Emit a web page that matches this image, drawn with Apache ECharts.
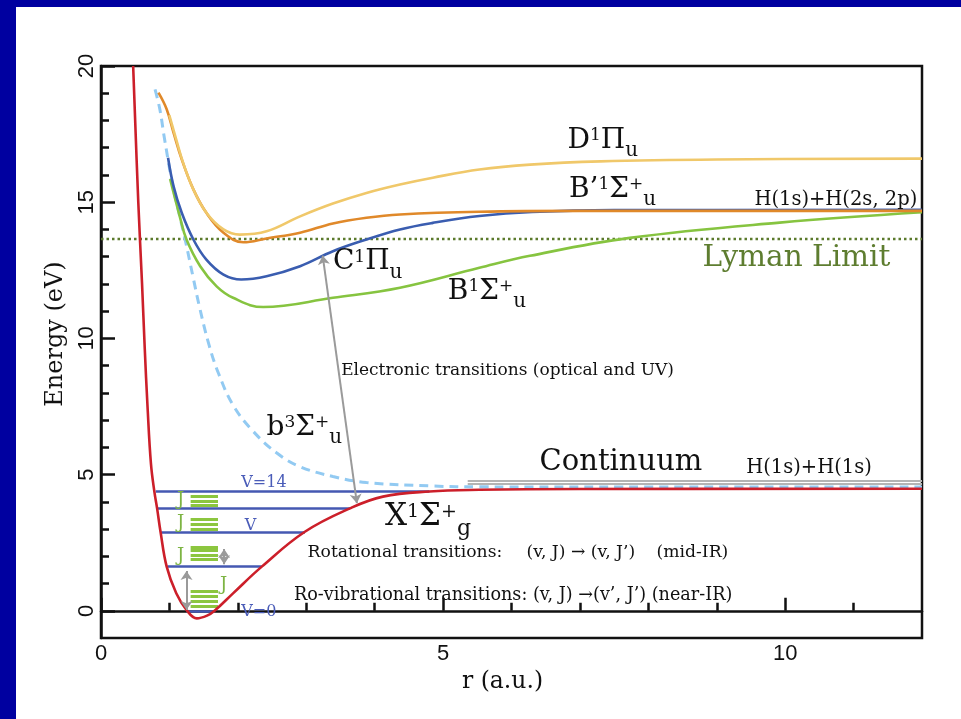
<!DOCTYPE html>
<html>
<head>
<meta charset="utf-8">
<script src="https://cdn.jsdelivr.net/npm/echarts@6/dist/echarts.min.js"></script>
<style>
  html, body { margin: 0; padding: 0; background: #fff; }
  #chart { width: 961px; height: 719px; }
</style>
</head>
<body>
<div id="chart"></div>
<script>
// Potential energy curves of the H2 molecule: energy (eV) against internuclear distance r (a.u.)

// Axis ranges and tick values
const rRange = [0, 12];
const eRange = [-1, 20];
const rMajorTicks = [0, 5, 10];
const rMinorTicks = [1, 2, 3, 4, 6, 7, 8, 9, 11];
const eMajorTicks = [0, 5, 10, 15, 20];
const eMinorTicks = [1, 2, 3, 4, 6, 7, 8, 9, 11, 12, 13, 14, 16, 17, 18, 19];

// Electronic states, [r, E] pairs
const stateX = [[0.47, 20], [0.545, 15], [0.6, 12], [0.64, 9.6], [0.68, 7.5],
  [0.73, 5.4], [0.78, 4.375], [0.82, 3.76], [0.87, 2.9], [0.96, 1.62], [1.1, 0.64], [1.25, 0.03],
  [1.4, -0.28], [1.55, -0.18], [1.66, 0.0], [1.93, 0.64], [2.35, 1.62], [2.98, 2.9], [3.64, 3.76],
  [4.12, 4.19], [4.8, 4.38], [5.53, 4.44], [7, 4.47], [12, 4.48]];
const stateb3 = [[0.79, 19.14], [0.86, 18.41], [0.93, 17.3], [1.05, 15.59], [1.15, 14.49], [1.23, 13.63],
  [1.35, 12.2], [1.44, 11.15], [1.58, 9.75], [1.72, 8.7], [1.93, 7.55], [2.22, 6.6], [2.57, 5.79],
  [2.91, 5.29], [3.39, 4.93], [3.88, 4.71], [4.85, 4.58], [5.53, 4.55], [8, 4.54], [12, 4.54]];
const stateD = [[0.998, 18.2], [1.1, 17.3], [1.2, 16.45], [1.35, 15.47], [1.54, 14.61], [1.79, 14.0],
  [2.03, 13.81], [2.42, 13.93], [2.91, 14.48], [3.39, 14.95], [3.88, 15.34], [4.37, 15.65],
  [4.85, 15.9], [5.53, 16.2], [6.27, 16.38], [7.3, 16.5], [9, 16.57], [12, 16.6]];
const stateBp = [[0.84, 19.02], [0.96, 18.41], [1.06, 17.55], [1.18, 16.57], [1.35, 15.47], [1.54, 14.61],
  [1.79, 13.88], [2.08, 13.53], [2.42, 13.67], [2.91, 13.88], [3.39, 14.22], [3.88, 14.43],
  [4.37, 14.55], [5.53, 14.65], [7, 14.68], [12, 14.68]];
const stateC = [[0.98, 16.63], [1.06, 15.59], [1.18, 14.61], [1.35, 13.63], [1.54, 12.89], [1.79, 12.34],
  [2.05, 12.16], [2.42, 12.28], [2.91, 12.65], [3.39, 13.2], [3.88, 13.63], [4.37, 14.0],
  [4.85, 14.24], [5.53, 14.49], [6.3, 14.64], [7.5, 14.71], [12, 14.72]];
const stateB = [[1.01, 15.85], [1.15, 14.49], [1.25, 13.63], [1.45, 12.65], [1.69, 11.91], [1.93, 11.49],
  [2.37, 11.15], [3.39, 11.49], [4.37, 11.86], [5.53, 12.59], [6.27, 13.03], [7.73, 13.69],
  [9.92, 14.25], [12, 14.63]];

// Ionisation threshold (Lyman limit) and dissociation continuum
const lymanLimit = 13.65;
const continuumLevels = [4.76, 4.67];
const continuumSpan = [5.36, 12];

// Vibrational levels of the ground state: [E, r left, r right]
const vibLevels = [[4.375, 0.8, 4.8], [3.76, 0.83, 3.64], [2.9, 0.88, 2.98], [1.62, 0.97, 2.35], [0, 1.25, 1.66]];
// Rotational sub-levels drawn beside the vibrational levels
const rotLevels = [[4.19, 4.03, 3.88], [3.36, 3.19, 3.01], [2.35, 2.21, 2.05, 1.89], [0.73, 0.55, 0.36, 0.18]];
const rotSpan = [1.31, 1.71];

// Transitions: [[r, E] start, [r, E] end]
const transitions = [
  [[3.74, 3.95], [3.24, 13.04]],
  [[1.8, 1.71], [1.8, 2.27]],
  [[1.25, 0.03], [1.25, 1.46]]
];

const SERIF = 'DejaVu Serif';
const SANS = 'Liberation Sans';
const INK = '#111';

// Term symbols: superscripts raised and subscripts lowered via asymmetric padding
function stateRich(size) {
  const up = Math.round(size * 0.36);
  const down = Math.round(size * 0.76);
  return {
    m: { fontFamily: SERIF, fontSize: size, color: INK },
    s: { fontFamily: SERIF, fontSize: Math.round(size * 0.62), color: INK, padding: [0, 0, up, 0] },
    b: { fontFamily: SERIF, fontSize: Math.round(size * 0.72), color: INK, padding: [down, 0, 0, 0] }
  };
}

function textLabel(pos, text, opts) {
  return {
    value: pos,
    label: Object.assign({
      show: true, position: 'right', distance: 0, formatter: text,
      fontFamily: SERIF, fontSize: 17, color: INK, opacity: 1
    }, opts || {})
  };
}

const annotations = [
  textLabel([6.82, 17.27], '{m|D}{s|1}{m|Π}{b|u}', { rich: stateRich(28) }),
  textLabel([6.84, 15.47], '{m|B’}{s|1}{m|Σ}{s|+}{b|u}', { rich: stateRich(28) }),
  textLabel([3.39, 12.8], '{m|C}{s|1}{m|Π}{b|u}', { rich: stateRich(28) }),
  textLabel([5.07, 11.72], '{m|B}{s|1}{m|Σ}{s|+}{b|u}', { rich: stateRich(28) }),
  textLabel([2.42, 6.72], '{m|b}{s|3}{m|Σ}{s|+}{b|u}', { rich: stateRich(28) }),
  textLabel([4.15, 3.44], '{m|X}{s|1}{m|Σ}{s|+}{b|g}', { rich: stateRich(31) }),
  textLabel([9.55, 15.1], 'H(1s)+H(2s, 2p)', { fontSize: 19.5 }),
  textLabel([9.43, 5.25], 'H(1s)+H(1s)', { fontSize: 19.5 }),
  textLabel([8.79, 12.93], 'Lyman Limit', { fontSize: 29.5, color: '#5e7d30' }),
  textLabel([6.41, 5.45], 'Continuum', { fontSize: 29 }),
  textLabel([3.51, 8.81], 'Electronic transitions (optical and UV)', { fontSize: 17 }),
  textLabel([3.02, 2.13], 'Rotational transitions:', { fontSize: 17.2 }),
  textLabel([6.22, 2.13], '(v, J) → (v, J’)', { fontSize: 17.2 }),
  textLabel([8.12, 2.13], '(mid-IR)', { fontSize: 17.2 }),
  textLabel([2.82, 0.57], 'Ro-vibrational transitions: (v, J) →(v’, J’) (near-IR)', { fontSize: 17.6 }),
  textLabel([2.05, 4.68], 'V=14', { fontSize: 16, color: '#4a5cb8' }),
  textLabel([2.1, 3.13], 'V', { fontSize: 16, color: '#4a5cb8' }),
  textLabel([2.05, -0.05], 'V=0', { fontSize: 16, color: '#4a5cb8' }),
  textLabel([1.11, 4.04], 'J', { fontSize: 18, color: '#7db443' }),
  textLabel([1.11, 3.21], 'J', { fontSize: 18, color: '#7db443' }),
  textLabel([1.11, 2.01], 'J', { fontSize: 18, color: '#7db443' }),
  textLabel([1.74, 0.94], 'J', { fontSize: 18, color: '#7db443' })
];

function curve(name, data, color, width, dash, z) {
  return {
    name: name, type: 'line', data: data, smooth: 0.4,
    showSymbol: false, symbol: 'none', clip: true, z: z || 3,
    lineStyle: { color: color, width: width, type: dash || 'solid', cap: 'butt' }
  };
}

const vibCoords = vibLevels.map(v => ({ coords: [[v[1], v[0]], [v[2], v[0]]] }));
const rotCoords = [];
rotLevels.forEach(stack => stack.forEach(e => rotCoords.push({ coords: [[rotSpan[0], e], [rotSpan[1], e]] })));
const contCoords = continuumLevels.map(e => ({ coords: [[continuumSpan[0], e], [continuumSpan[1], e]] }));
const arrowCoords = transitions.map(t => ({ coords: [t[0], t[1]] }));

const tickStyle = { color: INK, width: 2.5 };

const option = {
  animation: false,
  backgroundColor: '#fff',
  grid: { left: 101, top: 66, width: 821, height: 572, show: true, borderColor: INK, borderWidth: 2.5, outerBoundsMode: 'none' },
  graphic: [
    { type: 'rect', z: 100, shape: { x: 0, y: 0, width: 16, height: 719 }, style: { fill: '#0000a0' } },
    { type: 'rect', z: 100, shape: { x: 0, y: 0, width: 961, height: 7 }, style: { fill: '#0000a0' } }
  ],
  xAxis: [
    {
      type: 'value', min: rRange[0], max: rRange[1], position: 'bottom',
      axisLine: { show: true, lineStyle: tickStyle },
      axisTick: { show: true, inside: true, length: 13, customValues: rMajorTicks, lineStyle: tickStyle },
      axisLabel: { customValues: rMajorTicks, margin: 5, fontFamily: SANS, fontSize: 22, color: INK },
      splitLine: { show: false },
      name: 'r (a.u.)', nameLocation: 'middle', nameGap: 23,
      nameTextStyle: { fontFamily: SERIF, fontSize: 23.5, color: INK, padding: [0, 18, 0, 0] }
    },
    {
      type: 'value', min: rRange[0], max: rRange[1], position: 'bottom',
      axisLine: { show: false },
      axisTick: { show: true, inside: true, length: 8, customValues: rMinorTicks, lineStyle: tickStyle },
      axisLabel: { show: false }, splitLine: { show: false }
    }
  ],
  yAxis: [
    {
      type: 'value', min: eRange[0], max: eRange[1], position: 'left',
      axisLine: { show: true, lineStyle: tickStyle },
      axisTick: { show: true, inside: true, length: 14, customValues: eMajorTicks, lineStyle: tickStyle },
      axisLabel: { customValues: eMajorTicks, rotate: 90, margin: 3, fontFamily: SANS, fontSize: 22, color: INK },
      splitLine: { show: false },
      name: 'Energy (eV)', nameLocation: 'middle', nameGap: 30,
      nameTextStyle: { fontFamily: SERIF, fontSize: 24, color: INK, padding: [0, 0, 0, 36] }
    },
    {
      type: 'value', min: eRange[0], max: eRange[1], position: 'left',
      axisLine: { show: false },
      axisTick: { show: true, inside: true, length: 8, customValues: eMinorTicks, lineStyle: tickStyle },
      axisLabel: { show: false }, splitLine: { show: false }
    }
  ],
  series: [
    {
      name: 'Lyman limit', type: 'line', showSymbol: false, symbol: 'none', z: 2,
      data: [[rRange[0], lymanLimit], [rRange[1], lymanLimit]],
      lineStyle: { color: '#5b7a2c', width: 2.5, type: [2.5, 3] }
    },
    {
      name: 'Continuum', type: 'lines', coordinateSystem: 'cartesian2d', z: 2,
      data: contCoords, lineStyle: { color: '#b4b4b4', width: 2, opacity: 1 }
    },
    {
      name: 'Vibrational levels', type: 'lines', coordinateSystem: 'cartesian2d', z: 3,
      data: vibCoords, lineStyle: { color: '#4558b2', width: 2.6, opacity: 1 }
    },
    {
      name: 'Rotational levels', type: 'lines', coordinateSystem: 'cartesian2d', z: 3,
      data: rotCoords, lineStyle: { color: '#8cc63f', width: 3, opacity: 1 }
    },
    curve('b3Σu+', stateb3, '#92caf2', 3, [9, 6], 3),
    curve('B1Σu+', stateB, '#86c440', 2.6, 'solid', 4),
    curve('C1Πu', stateC, '#3a5db0', 2.6, 'solid', 4),
    curve("B'1Σu+", stateBp, '#e0892a', 2.6, 'solid', 4),
    curve('D1Πu', stateD, '#f0c86a', 2.6, 'solid', 5),
    curve('X1Σg+', stateX, '#cc1f2a', 2.6, 'solid', 6),
    {
      name: 'Transitions', type: 'lines', coordinateSystem: 'cartesian2d', z: 7,
      symbol: ['arrow', 'arrow'], symbolSize: 9,
      data: arrowCoords, lineStyle: { color: '#9a9a9a', width: 2, opacity: 1 }
    },
    {
      name: 'Annotations', type: 'scatter', symbolSize: 0, silent: true, z: 10,
      itemStyle: { opacity: 1 },
      data: annotations
    }
  ]
};

const chart = echarts.init(document.getElementById('chart'), null, { renderer: 'canvas' });
chart.setOption(option);
</script>
</body>
</html>
